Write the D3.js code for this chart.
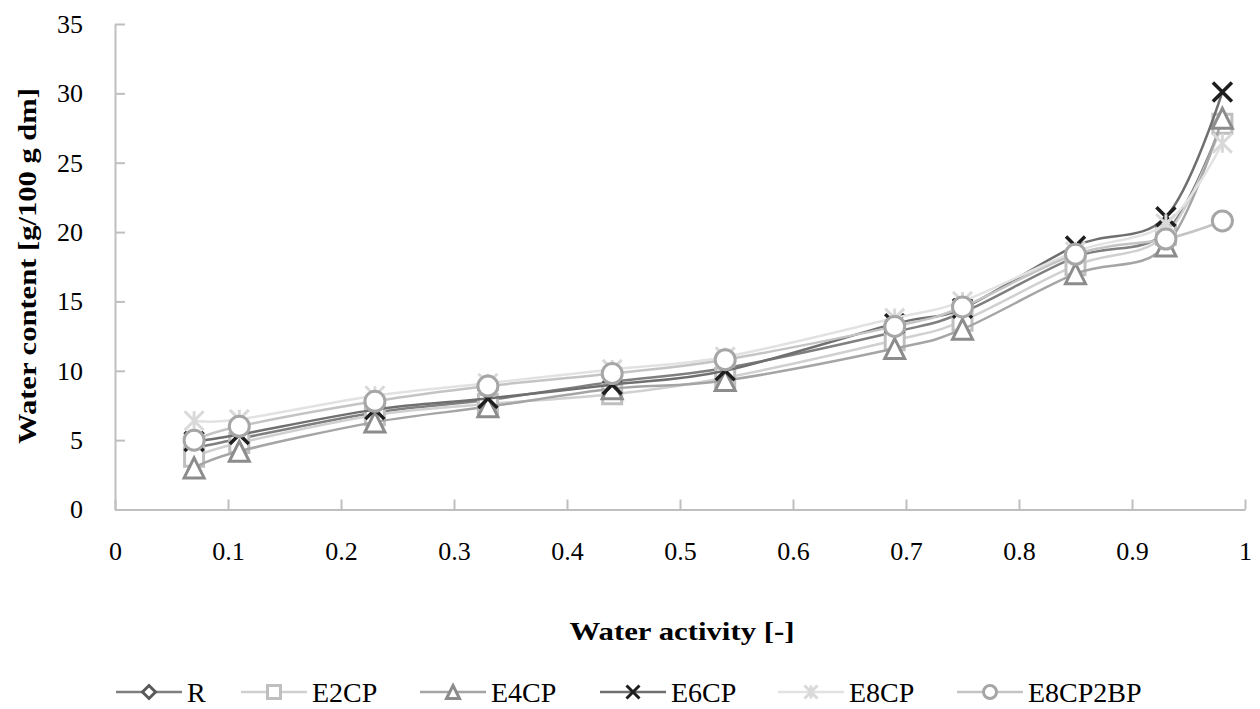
<!DOCTYPE html>
<html>
<head>
<meta charset="utf-8">
<script src="https://cdn.jsdelivr.net/npm/d3@7"></script>
<style>
  body { margin: 0; background: #fff; }
  svg text { font-family: "Liberation Serif", "DejaVu Serif", serif; fill: #000; }
  .axis path, .axis line { stroke: #bfbfbf; stroke-width: 2; }
  .axis text { font-size: 26px; }
  .title { font-size: 26px; font-weight: bold; }
  .legend text { font-size: 28px; }
</style>
</head>
<body>
<div id="chart"></div>
<script>
var w = 1260, h = 709;
var margin = {top: 24, right: 15, bottom: 199.5, left: 115};

var activity = [0.07, 0.11, 0.23, 0.33, 0.44, 0.54, 0.69, 0.75, 0.85, 0.93, 0.98];
var seriesNames = ["R", "E2CP", "E4CP", "E6CP", "E8CP", "E8CP2BP"];
var valR       = [4.4, 5.1, 7.0, 7.9, 9.2, 10.2, 12.8, 14.2, 18.2, 20.0, 28.0];
var valE2CP    = [3.8, 4.8, 6.8, 7.6, 8.3, 9.5, 12.2, 13.6, 17.6, 19.8, 27.8];
var valE4CP    = [3.0, 4.2, 6.3, 7.4, 8.7, 9.3, 11.6, 13.0, 17.0, 19.0, 28.2];
var valE6CP    = [4.9, 5.4, 7.2, 8.0, 9.0, 10.0, 13.4, 14.5, 19.0, 21.1, 30.1];
var valE8CP    = [6.4, 6.5, 8.2, 9.1, 10.1, 11.0, 13.8, 15.0, 18.6, 20.6, 26.4];
var valE8CP2BP = [5.0, 6.0, 7.8, 8.9, 9.8, 10.8, 13.2, 14.6, 18.4, 19.5, 20.8];
var xTicks = [0, 0.1, 0.2, 0.3, 0.4, 0.5, 0.6, 0.7, 0.8, 0.9, 1];
var yTicks = [0, 5, 10, 15, 20, 25, 30, 35];
var xTickLabels = ["0", "0.1", "0.2", "0.3", "0.4", "0.5", "0.6", "0.7", "0.8", "0.9", "1"];

var values = [valR, valE2CP, valE4CP, valE6CP, valE8CP, valE8CP2BP];

// look of each series (line colour, marker colour, marker type)
var styles = [
  {line: "#7f7f7f", mark: "#595959", shape: "diamond"},
  {line: "#d0d0d0", mark: "#bfbfbf", shape: "square"},
  {line: "#a5a5a5", mark: "#8c8c8c", shape: "triangle"},
  {line: "#6f6f6f", mark: "#1e1e1e", shape: "x"},
  {line: "#e2e2e2", mark: "#d9d9d9", shape: "star"},
  {line: "#c4c4c4", mark: "#a6a6a6", shape: "circle"}
];

var data = seriesNames.map(function(name, i) {
  return {
    name: name,
    style: styles[i],
    points: activity.map(function(a, j) { return {x: a, y: values[i][j]}; })
  };
});

var pw = w - margin.left - margin.right,
    ph = h - margin.top - margin.bottom;

var svg = d3.select("#chart").append("svg")
  .attr("width", w)
  .attr("height", h)
  .attr("font-family", "Liberation Serif, DejaVu Serif, serif");

var g = svg.append("g")
  .attr("transform", "translate(" + margin.left + "," + margin.top + ")");

var xScale = d3.scaleLinear().domain([0, 1]).range([0, pw]);
var yScale = d3.scaleLinear().domain([0, 35]).range([ph, 0]);

/*Axes*/
var xAxis = d3.axisBottom(xScale)
  .tickValues(xTicks)
  .tickFormat(function(d, i) { return xTickLabels[i]; })
  .tickSizeInner(-10)
  .tickSizeOuter(0)
  .tickPadding(32);
var yAxis = d3.axisLeft(yScale)
  .tickValues(yTicks)
  .tickSizeInner(-10)
  .tickSizeOuter(0)
  .tickPadding(32);

g.append("g").attr("class", "axis")
  .attr("transform", "translate(0," + ph + ")")
  .call(xAxis)
  .attr("font-family", null)
  .attr("font-size", null);
g.append("g").attr("class", "axis")
  .call(yAxis)
  .attr("font-family", null)
  .attr("font-size", null);

// marker path for a given shape and size
function markerPath(shape, s) {
  var r = s / 2;
  switch (shape) {
    case "diamond":
      return "M0," + (-r) + "L" + r + ",0L0," + r + "L" + (-r) + ",0Z";
    case "square":
      return "M" + (-r) + "," + (-r) + "H" + r + "V" + r + "H" + (-r) + "Z";
    case "triangle":
      return "M0," + (-r) + "L" + r + "," + r + "L" + (-r) + "," + r + "Z";
    case "x":
      return "M" + (-r) + "," + (-r) + "L" + r + "," + r + "M" + r + "," + (-r) + "L" + (-r) + "," + r;
    case "star":
      return "M" + (-r) + "," + (-r) + "L" + r + "," + r + "M" + r + "," + (-r) + "L" + (-r) + "," + r +
             "M0," + (-r) + "V" + r;
    case "circle":
      return d3.arc()({innerRadius: 0, outerRadius: r, startAngle: 0, endAngle: 2 * Math.PI});
  }
}

var markerSize = {diamond: 17, square: 19, triangle: 20, x: 19, star: 19, circle: 20};

var line = d3.line()
  .curve(d3.curveCardinal.tension(0))
  .x(function(d) { return xScale(d.x); })
  .y(function(d) { return yScale(d.y); });

/*Draw series*/
data.forEach(function(s) {
  var sg = g.append("g").attr("class", "series");
  sg.append("path")
    .datum(s.points)
    .attr("d", line)
    .attr("fill", "none")
    .attr("stroke", s.style.line)
    .attr("stroke-width", 2.5);
  sg.selectAll("path.mark")
    .data(s.points)
    .enter()
    .append("path")
    .attr("class", "mark")
    .attr("transform", function(d) {
      return "translate(" + xScale(d.x) + "," + yScale(d.y) + ")";
    })
    .attr("d", markerPath(s.style.shape, markerSize[s.style.shape]))
    .attr("fill", (s.style.shape == "x" || s.style.shape == "star") ? "none" : "#fff")
    .attr("stroke", s.style.mark)
    .attr("stroke-width", s.style.shape == "x" ? 3.5 : 3);
});

/*Titles*/
svg.append("text")
  .attr("class", "title")
  .attr("x", margin.left + pw / 2 + 2)
  .attr("y", 640)
  .attr("text-anchor", "middle")
  .attr("textLength", 225)
  .attr("lengthAdjust", "spacingAndGlyphs")
  .text("Water activity [-]");

svg.append("text")
  .attr("class", "title")
  .attr("transform", "translate(36,266) rotate(-90)")
  .attr("text-anchor", "middle")
  .attr("textLength", 356)
  .attr("lengthAdjust", "spacingAndGlyphs")
  .text("Water content [g/100 g dm]");

/*Legend*/
var legendX = [116, 241, 420, 600, 778, 957];
var legend = svg.append("g").attr("class", "legend")
  .attr("transform", "translate(0,692)");

var items = legend.selectAll("g")
  .data(data)
  .enter()
  .append("g")
  .attr("transform", function(d, i) { return "translate(" + legendX[i] + ",0)"; });

items.append("line")
  .attr("x1", 0).attr("x2", 66)
  .attr("stroke", function(d) { return d.style.line; })
  .attr("stroke-width", 2.5);
items.append("path")
  .attr("transform", "translate(33,0)")
  .attr("d", function(d) { return markerPath(d.style.shape, 13); })
  .attr("fill", function(d) { return (d.style.shape == "x" || d.style.shape == "star") ? "none" : "#fff"; })
  .attr("stroke", function(d) { return d.style.mark; })
  .attr("stroke-width", 3);
items.append("text")
  .attr("x", 71)
  .attr("y", 10)
  .text(function(d) { return d.name; });
</script>
</body>
</html>
